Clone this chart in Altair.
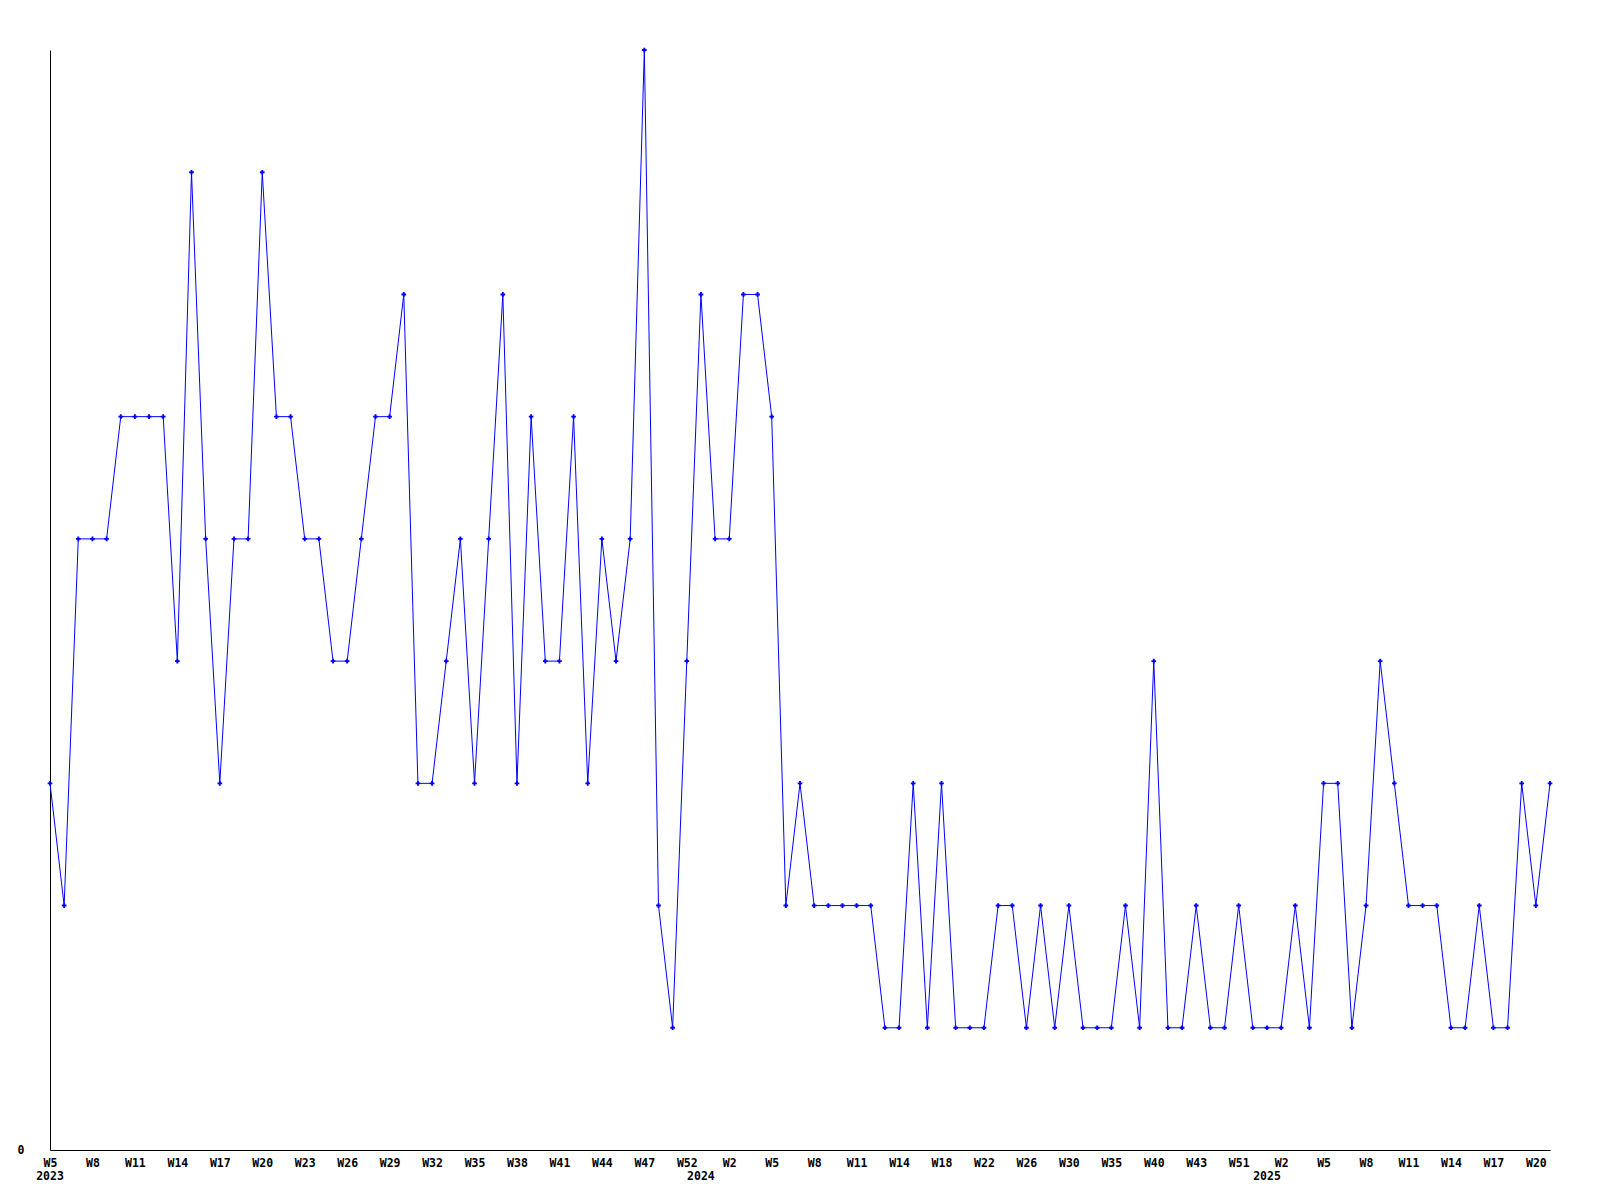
import altair as alt
import pandas as pd

values = [3, 2, 5, 5, 5, 6, 6, 6, 6, 4, 8, 5, 3, 5, 5, 8, 6, 6, 5, 5,
          4, 4, 5, 6, 6, 7, 3, 3, 4, 5, 3, 5, 7, 3, 6, 4, 4, 6, 3, 5,
          4, 5, 9, 2, 1, 4, 7, 5, 5, 7, 7, 6, 2, 3, 2, 2, 2, 2, 2, 1,
          1, 3, 1, 3, 1, 1, 1, 2, 2, 1, 2, 1, 2, 1, 1, 1, 2, 1, 4, 1,
          1, 2, 1, 1, 2, 1, 1, 1, 2, 1, 3, 3, 1, 2, 4, 3, 2, 2, 2, 1,
          1, 2, 1, 1, 3, 2, 3]

week_labels = ["W5", "W8", "W11", "W14", "W17", "W20", "W23", "W26", "W29",
               "W32", "W35", "W38", "W41", "W44", "W47", "W52", "W2", "W5",
               "W8", "W11", "W14", "W18", "W22", "W26", "W30", "W35", "W40",
               "W43", "W51", "W2", "W5", "W8", "W11", "W14", "W17", "W20"]
label_step = 3

years = ["2023", "2024", "2025"]
year_pos = [0, 46, 86]

df = pd.DataFrame({"i": list(range(len(values))), "v": values})
tick_vals = [k * label_step for k in range(len(week_labels))]
label_map = {str(t): l for t, l in zip(tick_vals, week_labels)}
label_expr = "(" + str(label_map).replace("'", '"') + ")[''+datum.value]"

FONT = "DejaVu Sans Mono"
n = len(values)

x_scale = alt.Scale(domain=[0, n - 1], nice=False, zero=False)
y_scale = alt.Scale(domain=[0, 9], nice=False)

x_axis = alt.Axis(values=tick_vals, labelExpr=label_expr, title=None,
                  ticks=False, tickSize=0, grid=False, labelPadding=13,
                  labelBaseline="middle", labelFont=FONT,
                  labelFontSize=11.5, labelFontWeight="bold", labelColor="black",
                  domainColor="black", domainWidth=1, labelOverlap=False,
                  labelFlush=False)
y_axis = alt.Axis(values=[0], title=None, ticks=False, tickSize=0, grid=False,
                  labelPadding=26, labelBaseline="middle", labelFont=FONT,
                  labelFontSize=11.5, labelFontWeight="bold", labelColor="black",
                  domainColor="black", domainWidth=1)

base = alt.Chart(df).encode(
    x=alt.X("i:Q", scale=x_scale, axis=x_axis),
    y=alt.Y("v:Q", scale=y_scale, axis=y_axis),
)

line = base.mark_line(color="#0000ff", strokeWidth=1)
pts = base.mark_point(shape="cross", filled=True, size=22, color="#0000ff", opacity=1)

ydf = pd.DataFrame({"i": year_pos, "t": years})
year_text = alt.Chart(ydf).mark_text(
    font=FONT, fontSize=11.5, fontWeight="bold", color="black", baseline="middle"
).encode(
    x=alt.X("i:Q", scale=x_scale),
    y=alt.value(1127),
    text="t:N",
)

chart = alt.layer(line, pts, year_text).properties(
    width=1500, height=1100,
    autosize=alt.AutoSizeParams(type="none"),
    padding={"left": 42, "top": 42, "right": 30, "bottom": 40},
    background="white",
).configure_view(strokeWidth=0, strokeOpacity=0)

chart.save("out.html", embed_options={"renderer": "svg", "actions": False})
